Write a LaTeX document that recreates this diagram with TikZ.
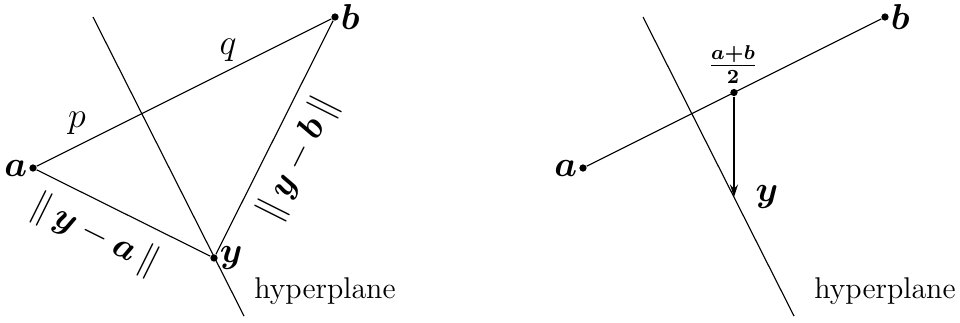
\documentclass[tikz,border=0pt]{standalone}
\usepackage{amsmath,bm}
\usetikzlibrary{calc,arrows.meta}
\tikzset{
  dotpt/.style={circle,fill=black,inner sep=0pt,minimum size=2.9pt},
  lab/.style={font=\Large,inner sep=1.5pt},
  normlab/.style={font=\Large,inner sep=1pt,sloped,below},
  hyp/.style={font=\large,inner sep=0pt},
  ln/.style={line width=0.45pt},
}
\begin{document}
\begin{tikzpicture}[x=0.4pt,y=-0.4pt]
\useasboundingbox (0,0) rectangle (960,322);
% ---------- left figure ----------
\node[dotpt] (a) at (33,168) {};
\node[dotpt] (b) at (335,17) {};
\node[dotpt] (y) at (214,258) {};
\coordinate (h1) at (93,17);
\coordinate (h2) at (244,316);
\draw[ln] (h1) -- (h2);
\draw[ln] (a) -- (b);
\draw[ln] (a) -- node[normlab,pos=0.42,yshift=-4.5pt] (nya) {$\|\,\bm{y}-\bm{a}\,\|$} (y);
\draw[ln] (y) -- node[normlab,pos=0.47,yshift=-4pt] (nyb) {$\|\,\bm{y}-\bm{b}\,\|$} (b);
\node[lab,anchor=east,inner sep=0.5pt] (la) at (a.west) {$\bm{a}$};
\node[lab,anchor=west,inner sep=0.5pt] (lb) at (b.east) {$\bm{b}$};
\node[lab,anchor=west,inner sep=0.5pt] (ly) at (y.east) {$\bm{y}$};
\node[lab] (p) at (77,123) {$p$};
\node[lab] (q) at (228,50) {$q$};
\node[hyp] (hp1) at (325,291) {hyperplane};
% ---------- right figure ----------
\node[dotpt] (a2) at (583,168) {};
\node[dotpt] (b2) at (885,17) {};
\coordinate (g1) at (643,17);
\coordinate (g2) at (794,316);
\draw[ln] (g1) -- (g2);
\draw[ln] (a2) -- (b2);
\node[dotpt] (m) at ($(a2)!0.5!(b2)$) {};
\coordinate (foot) at (734,197);
\draw[ln,-{Stealth[length=5pt,width=3.2pt]}] (m) -- (foot);
\node[lab,anchor=east,inner sep=0.5pt] (la2) at (a2.west) {$\bm{a}$};
\node[lab,anchor=west,inner sep=0.5pt] (lb2) at (b2.east) {$\bm{b}$};
\node[lab] (ly2) at (767,197) {$\bm{y}$};
\node[inner sep=0pt,font=\large] (lm) at (733,65) {$\bm{\frac{a+b}{2}}$};
\node[hyp] (hp2) at (885,291) {hyperplane};
\end{tikzpicture}
\end{document}
